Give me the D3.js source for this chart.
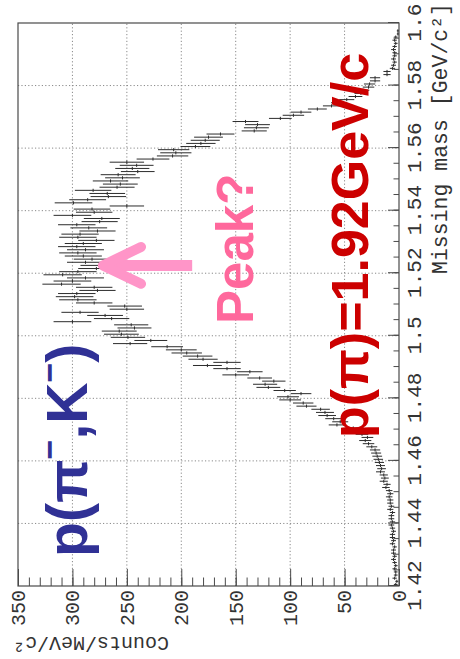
<!DOCTYPE html>
<html>
<head>
<meta charset="utf-8">
<script src="https://cdn.jsdelivr.net/npm/d3@7"></script>
<style>
  html, body { margin: 0; padding: 0; background: #fff; }
  svg { display: block; }
</style>
</head>
<body>
<svg id="chart" width="460" height="659"></svg>
<script>
// Missing-mass spectrum, 1 MeV bins starting at 1.420 GeV/c^2
const massStart = 1.42;
const binWidth = 0.001;
const counts = [
  3, 2, 4, 3, 3, 4, 3, 4, 5, 4,
  5, 5, 4, 6, 5, 6, 6, 5, 6, 7,
  6, 7, 7, 6, 8, 7, 8, 8, 9, 8,
  9, 12, 11, 14, 13, 14, 17, 16, 17, 18,
  19, 20, 21, 22, 25, 28, 31, 29, 34, 38,
  42, 57, 54, 60, 66, 68, 72, 85, 88, 100,
  102, 90, 105, 120, 123, 115, 128, 150, 137, 158,
  176, 158, 180, 185, 195, 200, 213, 247, 228, 249,
  255, 257, 243, 246, 300, 264, 270, 293, 250, 252,
  280, 295, 298, 296, 277, 280, 310, 300, 288, 309,
  295, 278, 276, 288, 282, 290, 295, 288, 296, 290,
  278, 295, 293, 277, 285, 296, 275, 273, 300, 280,
  282, 250, 299, 286, 267, 268, 281, 259, 256, 265,
  254, 258, 240, 245, 241, 250, 226, 208, 205, 207,
  187, 182, 178, 175, 164, 133, 131, 130, 141, 109,
  97, 90, 75, 62, 55, 48, 40, 35, 33, 28,
  27, 22, 22, 11, 11, 6, 5, 4, 5, 4,
  4, 5, 4, 3, 4, 3, 1, 1, 0, 0
];

const massTicks = [1.42, 1.44, 1.46, 1.48, 1.50, 1.52, 1.54, 1.56, 1.58, 1.60];
const massTickLabels = ["1.42", "1.44", "1.46", "1.48", "1.5", "1.52", "1.54", "1.56", "1.58", "1.6"];
const countTicks = [0, 50, 100, 150, 200, 250, 300, 350];
const countTickLabels = ["0", "50", "100", "150", "200", "250", "300", "350"];

const massTitle = "Missing mass [GeV/c²]";
const countTitle = "Counts/MeV/c²";

// Annotation texts anchored in data units (mass, counts)
const reactionLabel = { mass: 1.4293, count: 286.6 };
const beamLabel = { mass: 1.4673, count: 28.5 };
const peakLabel = { mass: 1.5038, count: 134.1 };
const peakArrow = { mass: 1.5225, from: 190, to: 272, barb: 237, spread: 0.0059 };

const W = 460, H = 659;
const svg = d3.select("#chart");

// The whole plot is laid out in its own frame, then turned a quarter turn
// counter-clockwise so that mass runs upward and counts run leftward.
const g = svg.append("g").attr("transform", `translate(0,${H}) rotate(-90)`);

const x = d3.scaleLinear().domain([1.42, 1.60]).range([73, 636]);   // mass
const y = d3.scaleLinear().domain([0, 350]).range([399, 18]);       // counts

const x0 = x.range()[0], x1 = x.range()[1];
const yTop = y.range()[1], yBot = y.range()[0];

// dotted grid
const grid = g.append("g")
  .attr("stroke", "#8a8a8a")
  .attr("stroke-width", 1)
  .attr("stroke-dasharray", "1.2,2.2");
grid.selectAll("line.gx")
  .data(massTicks.slice(1, -1))
  .join("line")
  .attr("x1", d => x(d)).attr("x2", d => x(d))
  .attr("y1", yTop).attr("y2", yBot);
grid.selectAll("line.gy")
  .data(countTicks.slice(1, -1))
  .join("line")
  .attr("x1", x0).attr("x2", x1)
  .attr("y1", d => y(d)).attr("y2", d => y(d));

// histogram with Poisson error bars
const bins = counts.map((c, i) => ({
  lo: massStart + i * binWidth,
  hi: massStart + (i + 1) * binWidth,
  c: c,
  e: Math.sqrt(c)
})).filter(d => d.c > 0);

const hist = g.append("g").attr("stroke", "#2c2c2c").attr("stroke-width", 1);
hist.selectAll("line.err")
  .data(bins)
  .join("line")
  .attr("class", "err")
  .attr("x1", d => x((d.lo + d.hi) / 2)).attr("x2", d => x((d.lo + d.hi) / 2))
  .attr("y1", d => y(d.c - d.e)).attr("y2", d => y(d.c + d.e));
hist.selectAll("line.bin")
  .data(bins)
  .join("line")
  .attr("class", "bin")
  .attr("x1", d => x(d.lo)).attr("x2", d => x(d.hi))
  .attr("y1", d => y(d.c)).attr("y2", d => y(d.c));

// frame
g.append("rect")
  .attr("x", x0).attr("y", yTop)
  .attr("width", x1 - x0).attr("height", yBot - yTop)
  .attr("fill", "none").attr("stroke", "#4a4a4a").attr("stroke-width", 1.2);

// axes: ticks point into the frame
const labelFont = "'Liberation Mono', 'DejaVu Sans Mono', monospace";
const massMinor = d3.range(0, 37).map(k => 1.42 + k * 0.005);
const countMinor = d3.range(0, 36).map(k => k * 10);

function styleAxis(sel) {
  sel.select(".domain").remove();
  sel.selectAll(".tick line").attr("stroke", "#4a4a4a").attr("stroke-width", 1);
  sel.selectAll(".tick text")
    .attr("fill", "#333")
    .style("font-family", labelFont);
}

g.append("g")
  .attr("transform", `translate(0,${yBot})`)
  .call(d3.axisBottom(x).tickValues(massMinor).tickSize(-5.5).tickFormat(""))
  .call(styleAxis);
g.append("g")
  .attr("transform", `translate(0,${yBot})`)
  .call(d3.axisBottom(x).tickValues(massTicks).tickSize(-11).tickPadding(7)
    .tickFormat((d, i) => massTickLabels[i]))
  .call(styleAxis)
  .selectAll(".tick text").style("font-size", "21px");

g.append("g")
  .attr("transform", `translate(${x0},0)`)
  .call(d3.axisLeft(y).tickValues(countMinor).tickSize(-8.5).tickFormat(""))
  .call(styleAxis);
g.append("g")
  .attr("transform", `translate(${x0},0)`)
  .call(d3.axisLeft(y).tickValues(countTicks).tickSize(-17).tickPadding(4)
    .tickFormat((d, i) => countTickLabels[i]))
  .call(styleAxis)
  .selectAll(".tick text").style("font-size", "20px");

// axis titles
g.append("text")
  .attr("x", 656).attr("y", 447)
  .attr("text-anchor", "end")
  .attr("fill", "#333")
  .style("font-family", labelFont).style("font-size", "21.5px")
  .text(massTitle);
g.append("text")
  .attr("transform", "translate(22,13) rotate(-90)")
  .attr("text-anchor", "end")
  .attr("fill", "#333")
  .style("font-family", labelFont).style("font-size", "20px")
  .text(countTitle);

// annotations
const annFont = "'Liberation Sans', Arial, sans-serif";

const reaction = g.append("text")
  .attr("x", x(reactionLabel.mass)).attr("y", y(reactionLabel.count))
  .attr("fill", "#303195")
  .style("font-family", annFont).style("font-size", "57px").style("font-weight", "bold");
reaction.append("tspan").text("p(π");
reaction.append("tspan").attr("dy", -26).style("font-size", "34px").text("−");
reaction.append("tspan").attr("dy", 26).text(",K");
reaction.append("tspan").attr("dy", -26).style("font-size", "34px").text("−");
reaction.append("tspan").attr("dy", 26).text(")");

g.append("text")
  .attr("x", x(beamLabel.mass)).attr("y", y(beamLabel.count))
  .attr("fill", "#cc0000")
  .style("font-family", annFont).style("font-size", "52px").style("font-weight", "bold")
  .text("p(π)=1.92GeV/c");

g.append("text")
  .attr("x", x(peakLabel.mass)).attr("y", y(peakLabel.count))
  .attr("fill", "#ff689c")
  .style("font-family", annFont).style("font-size", "51px").style("font-weight", "bold")
  .text("Peak?");

const arrow = g.append("g").attr("stroke", "#ff95c8").attr("fill", "none").attr("stroke-width", 11);
arrow.append("line")
  .attr("x1", x(peakArrow.mass)).attr("x2", x(peakArrow.mass))
  .attr("y1", y(peakArrow.from)).attr("y2", y(peakArrow.to) + 3);
arrow.append("path")
  .attr("stroke-linecap", "round").attr("stroke-linejoin", "round").attr("stroke-width", 10)
  .attr("d", d3.line()([
    [x(peakArrow.mass + peakArrow.spread), y(peakArrow.barb)],
    [x(peakArrow.mass), y(peakArrow.to)],
    [x(peakArrow.mass - peakArrow.spread), y(peakArrow.barb)]
  ]));
</script>
</body>
</html>
